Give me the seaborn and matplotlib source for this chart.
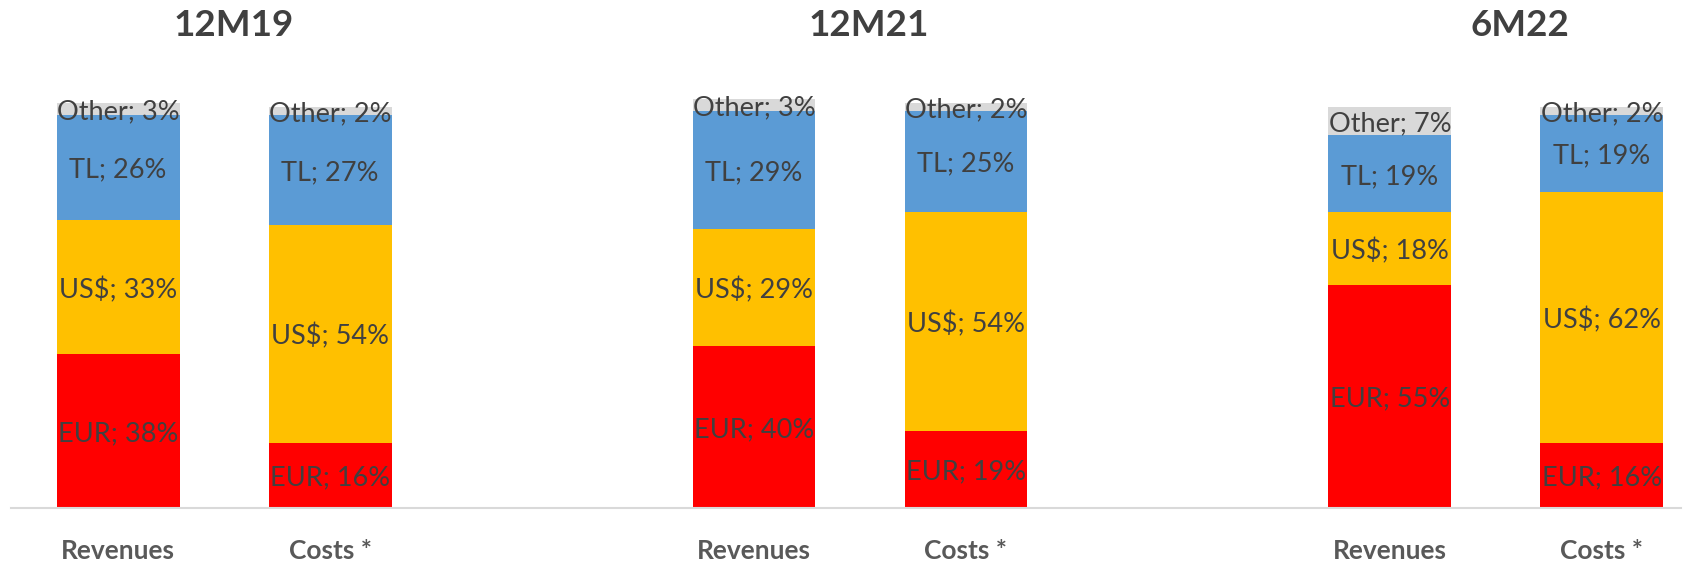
import numpy as np
import pandas as pd
import matplotlib
matplotlib.use("Agg")
import matplotlib.pyplot as plt
import seaborn as sns

periods = ["12M19", "12M21", "6M22"]
kinds = ["Revenues", "Costs *"]
currencies = ["EUR", "US$", "TL", "Other"]
eur = [38, 16, 40, 19, 55, 16]
usd = [33, 54, 29, 54, 18, 62]
tl = [26, 27, 29, 25, 19, 19]
other = [3, 2, 3, 2, 7, 2]
colors = ["#FF0000", "#FFC000", "#5B9BD5", "#D9D9D9"]

sns.set_style("white")
plt.rcParams["font.family"] = ["Lato", "DejaVu Sans"]

W, H = 1684, 562
fig = plt.figure(figsize=(W / 100, H / 100), dpi=100)
ax = fig.add_axes([11 / W, 54 / H, 1670 / W, 445.5 / H])

pos = [3 * g + j for g in range(len(periods)) for j in range(len(kinds))]
data = np.array([eur, usd, tl, other])
cum = data.cumsum(axis=0)

for k in reversed(range(len(currencies))):
    df = pd.DataFrame({"x": pos, "y": cum[k]})
    sns.barplot(data=df, x="x", y="y", native_scale=True, width=0.58,
                color=colors[k], saturation=1, errorbar=None, linewidth=0, ax=ax)

for i, x in enumerate(pos):
    for k, cur in enumerate(currencies):
        v = data[k][i]
        mid = cum[k][i] - v / 2
        ax.text(x, mid, f"{cur}; {v}%", ha="center", va="center_baseline",
                fontsize=19.5, color="#404040", clip_on=False)

ax.set_xlim(-0.505, 7.373)
ax.set_ylim(0, 110)
ax.set_xticks(pos)
ax.set_xticklabels(kinds * len(periods), fontsize=19, fontweight="bold", color="#595959")
ax.tick_params(axis="x", length=0, pad=22)
ax.set_yticks([])
ax.set_xlabel("")
ax.set_ylabel("")
for s in ["top", "right", "left"]:
    ax.spines[s].set_visible(False)
ax.spines["bottom"].set_color("#D9D9D9")
ax.spines["bottom"].set_linewidth(1.5)

title_px = [234, 869, 1520]
for t, px in zip(periods, title_px):
    fig.text(px / W, 1 - 25 / H, t, ha="center", va="center", fontsize=26.5,
             fontweight="bold", color="#404040")

fig.savefig("out.png", dpi=100)
